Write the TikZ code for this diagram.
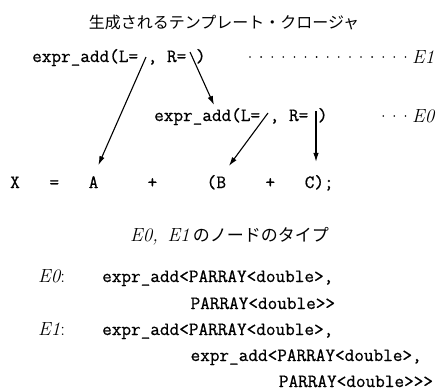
\documentclass[tikz,border=0pt]{standalone}
\usepackage{fontspec}
\newfontfamily\jpfont{Noto Sans CJK JP}
\newfontfamily\codefont[FakeBold=0.8]{Latin Modern Mono}
\usetikzlibrary{arrows.meta}
\begin{document}
\begin{tikzpicture}[x=1pt,y=-1pt,
  code/.style={font=\fontsize{18.7}{20}\selectfont\codefont, inner sep=0pt, anchor=base west},
  lbl/.style={font=\fontsize{19}{22}\selectfont\itshape, inner sep=0pt, anchor=base west},
  jp/.style={font=\fontsize{16}{18}\selectfont\jpfont, inner sep=0pt},
  ptr/.style={-{Latex[length=9pt,width=5.5pt]}, line width=1.1pt},
  leader/.style={fill, circle, inner sep=0pt, minimum size=1.8pt}]
\useasboundingbox (0,0) rectangle (443,391);

% heading
\node[jp] (title) at (224,22) {生成されるテンプレート・クロージャ};

% outer closure E1
\node[code] (e1) at (32,62) {expr\_add(L=\hphantom{x},\hphantom{x}R=\hphantom{x})};
\coordinate (e1L) at (146,57);
\coordinate (e1R) at (190,52);
\foreach \i in {0,...,14} \node[leader] at (250+\i*11.1,57) {};
\node[lbl] (tagE1) at (412,63) {E1};

% inner closure E0
\node[code] (e0) at (154,121) {expr\_add(L=\hphantom{x},\hphantom{x}R=\hphantom{x})};
\coordinate (e0L) at (268,113);
\coordinate (e0R) at (316,111);
\coordinate (e0top) at (214,105);
\foreach \i in {12,13,14} \node[leader] at (250+\i*11.1,116) {};
\node[lbl] (tagE0) at (412,122) {E0};

% the expression
\node[code] (tX)  at (10,188) {X};
\node[code] (tEq) at (49.3,188) {=};
\node[code] (tA)  at (88.5,188) {A};
\node[code] (tP1) at (147.4,188) {+};
\node[code] (tLp) at (206.4,188) {(};
\node[code] (tB)  at (216.2,188) {B};
\node[code] (tP2) at (265.3,188) {+};
\node[code] (tC)  at (304.6,188) {C);};

% pointers
\draw[ptr, shorten >=12pt] (e1L) -- (tA.north);
\draw[ptr] (e1R) -- (e0top);
\draw[ptr, shorten >=13pt] (e0L) -- (tB.north);
\draw[ptr, shorten >=13pt] (e0R) -- (e0R |- tC.north);

% caption of the type list
\node[inner sep=0pt, anchor=base west] (cap) at (130,241)
  {\fontsize{19}{22}\selectfont\itshape E0,\enspace E1\upshape\,{\jpfont\fontsize{17}{20}\selectfont のノードのタイプ}};

% node types
\node[lbl] (k0) at (38,282) {E0\upshape:};
\node[code] (c0a) at (102,282) {expr\_add<PARRAY<double>,};
\node[code] (c0b) at (190.4,309) {PARRAY<double>>};
\node[lbl] (k1) at (38,335) {E1\upshape:};
\node[code] (c1a) at (102,335) {expr\_add<PARRAY<double>,};
\node[code] (c1b) at (190.4,361) {expr\_add<PARRAY<double>,};
\node[code] (c1c) at (278.7,387) {PARRAY<double>>>};
\end{tikzpicture}
\end{document}
